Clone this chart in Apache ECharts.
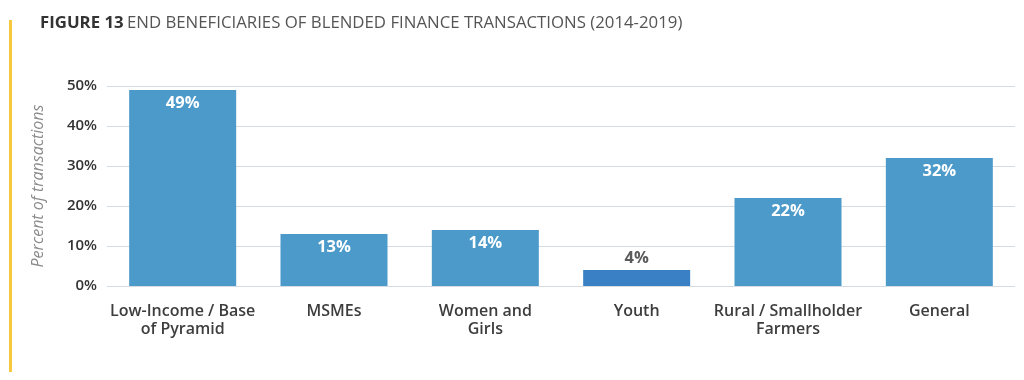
<!DOCTYPE html>
<html><head><meta charset="utf-8">
<script src="https://cdn.jsdelivr.net/npm/echarts@6/dist/echarts.min.js"></script>
<style>html,body{margin:0;padding:0;background:#fff}#c{width:1024px;height:380px}</style>
</head><body><div id="c"></div>
<script>
const categories = ["Low-Income / Base\nof Pyramid", "MSMEs", "Women and\nGirls", "Youth", "Rural / Smallholder\nFarmers", "General"];
const values = [49, 13, 14, 4, 22, 32];
const barColors = ["#4b9aca", "#4b9aca", "#4b9aca", "#3a80c4", "#4b9aca", "#4b9aca"];
const yTicks = [0, 10, 20, 30, 40, 50];

const chart = echarts.init(document.getElementById('c'), null, {renderer: 'canvas'});
chart.setOption({
  animation: false,
  textStyle: {fontFamily: 'Open Sans'},
  graphic: [
    {type: 'rect', shape: {x: 9, y: 20, width: 3, height: 352}, style: {fill: '#f6c83e'}},
    {type: 'text', left: 40, top: 15, style: {
      rich: {b: {fontWeight: 'bold', fontSize: 16.8, fill: '#333', fontFamily: 'Open Sans'},
             n: {fontSize: 16.8, fill: '#555', fontFamily: 'Open Sans'}},
      text: '{b|FIGURE 13} {n|END BENEFICIARIES OF BLENDED FINANCE TRANSACTIONS (2014-2019)}'
    }}
  ],
  grid: {left: 107, right: 9, top: 86, bottom: 94, containLabel: false},
  xAxis: {
    type: 'category', data: categories,
    axisLine: {show: false}, axisTick: {show: false},
    axisLabel: {color: '#3d3d3d', fontSize: 16, fontWeight: 600, margin: 16, lineHeight: 18, interval: 0}
  },
  yAxis: {
    type: 'value', min: 0, max: 50, interval: 10,
    name: 'Percent of transactions', nameLocation: 'middle', nameGap: 61, nameRotate: 90,
    nameTextStyle: {color: '#8a8a8a', fontStyle: 'italic', fontSize: 16, fontFamily: 'Open Sans'},
    axisLine: {show: false}, axisTick: {show: false},
    axisLabel: {color: '#333', fontSize: 15, fontWeight: 600, margin: 10, formatter: v => v + '%'},
    splitLine: {lineStyle: {color: '#d5dbe3', width: 1}}
  },
  series: [{
    type: 'bar', barWidth: 107,
    data: values.map((v, i) => ({
      value: v,
      itemStyle: {color: barColors[i]},
      label: v < 8 ? {position: 'top', color: '#5a5a5a', distance: 3} : {position: 'insideTop', color: '#fff', distance: 5}
    })),
    label: {show: true, fontSize: 16.5, fontWeight: 'bold', formatter: '{c}%'}
  }]
});
</script></body></html>
